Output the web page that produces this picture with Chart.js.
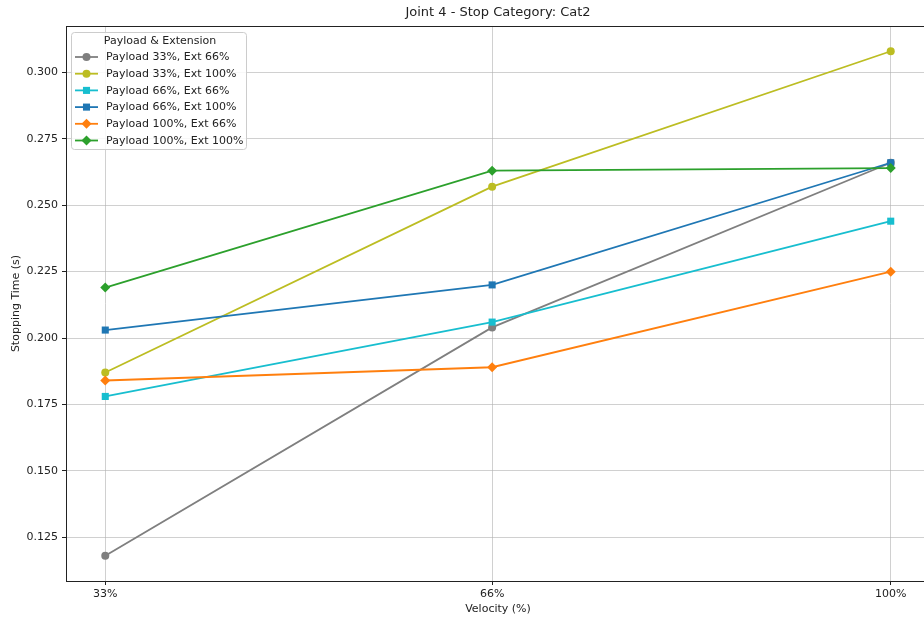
<!DOCTYPE html>
<html>
<head>
<meta charset="utf-8">
<script src="https://cdn.jsdelivr.net/npm/chart.js@4.4.1/dist/chart.umd.min.js"></script>
<style>
html, body { margin: 0; padding: 0; background: #fff; overflow: hidden; }
#wrap { width: 924px; height: 619px; overflow: hidden; }
</style>
</head>
<body>
<div id="wrap"><canvas id="chart" width="940" height="619"></canvas></div>
<script>
// data
const velocities = [33, 66, 100];
const xTickLabels = ['33%', '66%', '100%'];
const yTicks = [0.125, 0.150, 0.175, 0.200, 0.225, 0.250, 0.275, 0.300];

const seriesLabels = [
    'Payload 33%, Ext 66%',
    'Payload 33%, Ext 100%',
    'Payload 66%, Ext 66%',
    'Payload 66%, Ext 100%',
    'Payload 100%, Ext 66%',
    'Payload 100%, Ext 100%'
];
const p33e66 = [0.118, 0.204, 0.266];
const p33e100 = [0.187, 0.257, 0.308];
const p66e66 = [0.178, 0.206, 0.244];
const p66e100 = [0.203, 0.220, 0.266];
const p100e66 = [0.184, 0.189, 0.225];
const p100e100 = [0.219, 0.263, 0.264];

const seriesValues = [p33e66, p33e100, p66e66, p66e100, p100e66, p100e100];
const colors = ['#7f7f7f', '#bcbd22', '#17becf', '#1f77b4', '#ff7f0e', '#2ca02c'];
const markers = ['circle', 'circle', 'rect', 'rect', 'rectRot', 'rectRot'];
const markerSize = { circle: 4, rect: 5, rectRot: 5 };

const FONT = 'DejaVu Sans';

const datasets = seriesValues.map((vals, i) => ({
    label: seriesLabels[i],
    data: vals.map((v, j) => ({ x: velocities[j], y: v })),
    borderColor: colors[i],
    backgroundColor: colors[i],
    borderWidth: 1.8,
    pointStyle: markers[i],
    pointRadius: markerSize[markers[i]],
    pointBorderWidth: 0,
    tension: 0,
    order: -i // later series on top, like matplotlib
}));

// frame around the plot area + legend box inside it
const framePlugin = {
    id: 'frame',
    afterDatasetsDraw(chart) {
        const { ctx, chartArea: a } = chart;
        ctx.save();
        ctx.strokeStyle = '#222';
        ctx.lineWidth = 1;
        ctx.strokeRect(Math.round(a.left) + 0.5, Math.round(a.top) + 0.5,
            Math.round(a.right - a.left), Math.round(a.bottom - a.top));

        // legend
        const bx = 71, by = 32, bw = 175, bh = 117;
        ctx.fillStyle = 'rgba(255,255,255,0.85)';
        ctx.strokeStyle = '#cccccc';
        ctx.beginPath();
        ctx.roundRect(bx + 0.5, by + 0.5, bw, bh, 3);
        ctx.fill();
        ctx.stroke();

        ctx.fillStyle = '#222';
        ctx.font = '11px "' + FONT + '"';
        ctx.textBaseline = 'middle';
        ctx.textAlign = 'center';
        ctx.fillText('Payload & Extension', 160, 41);
        ctx.textAlign = 'left';
        chart.data.datasets.forEach((ds, i) => {
            const y = 57 + i * 16.7;
            ctx.strokeStyle = ds.borderColor;
            ctx.lineWidth = ds.borderWidth;
            ctx.beginPath();
            ctx.moveTo(75, y);
            ctx.lineTo(98, y);
            ctx.stroke();
            ctx.fillStyle = ds.backgroundColor;
            Chart.helpers.drawPoint(ctx, {
                pointStyle: ds.pointStyle, radius: ds.pointRadius, rotation: 0, borderWidth: 0
            }, 86.5, y);
            ctx.fillStyle = '#222';
            ctx.fillText(ds.label, 106, y + 0.5);
        });
        ctx.restore();
    }
};

new Chart(document.getElementById('chart'), {
    type: 'line',
    data: { datasets },
    plugins: [framePlugin],
    options: {
        responsive: false,
        animation: false,
        layout: { padding: { left: 0, right: 10, top: 0, bottom: 0 } },
        plugins: {
            legend: { display: false },
            tooltip: { enabled: false },
            title: {
                display: true,
                fullSize: false, // centre over the plot area
                text: 'Joint 4 - Stop Category: Cat2',
                color: '#222',
                font: { family: FONT, size: 13, weight: 'normal' },
                padding: { top: 5, bottom: 5.4 }
            }
        },
        scales: {
            x: {
                type: 'linear',
                min: 29.65,
                max: 103.35,
                afterBuildTicks(scale) {
                    scale.ticks = velocities.map(v => ({ value: v }));
                },
                afterFit(scale) { scale.height = 38; },
                ticks: {
                    color: '#222',
                    font: { family: FONT, size: 11 },
                    padding: 3,
                    maxRotation: 0,
                    callback: (v) => xTickLabels[velocities.indexOf(v)]
                },
                grid: { color: 'rgba(176,176,176,0.6)', lineWidth: 1, tickColor: '#222', tickLength: 4 },
                border: { display: false },
                title: {
                    display: true, text: 'Velocity (%)', color: '#222',
                    font: { family: FONT, size: 11 }, padding: { top: 0, bottom: 3 }
                }
            },
            y: {
                min: 0.1085,
                max: 0.3175,
                afterBuildTicks(scale) {
                    scale.ticks = yTicks.map(v => ({ value: v }));
                },
                afterFit(scale) { scale.width = 66; },
                ticks: {
                    color: '#222',
                    font: { family: FONT, size: 11 },
                    padding: 4,
                    callback: (v) => v.toFixed(3)
                },
                grid: { color: 'rgba(176,176,176,0.6)', lineWidth: 1, tickColor: '#222', tickLength: 4 },
                border: { display: false },
                title: {
                    display: true, text: 'Stopping Time (s)', color: '#222',
                    font: { family: FONT, size: 11 }, padding: { top: 10, bottom: 0 }
                }
            }
        }
    }
});
</script>
</body>
</html>
